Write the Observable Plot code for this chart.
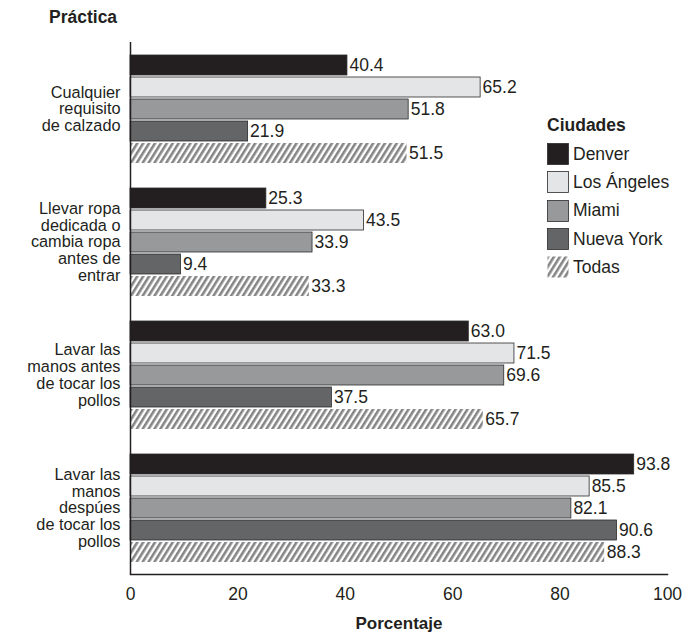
<!DOCTYPE html>
<html>
<head>
<meta charset="utf-8">
<script src="https://cdn.jsdelivr.net/npm/d3@7"></script>
<script src="https://cdn.jsdelivr.net/npm/@observablehq/plot@0.6"></script>
<style>
  html, body { margin: 0; padding: 0; background: #fff; }
  body { font-family: "Liberation Sans", Arial, Helvetica, sans-serif; color: #231f20; }
  #wrap { position: relative; width: 698px; height: 635px; }
  #title { position: absolute; left: 49px; top: 7px; font-weight: bold; font-size: 17.5px; line-height: 20px; }
  #legend { position: absolute; left: 547px; top: 114px; font-size: 17.5px; }
  #legend .head { font-weight: bold; height: 26px; line-height: 22px; }
  #legend .row { display: flex; align-items: center; height: 28.3px; }
  #legend svg { margin-right: 4px; }
</style>
</head>
<body>
<div id="wrap">
  <div id="chart"></div>
  <div id="title">Práctica</div>
  <div id="legend"></div>
</div>
<script>
const practices = [
  "Cualquier\nrequisito\nde calzado",
  "Llevar ropa\ndedicada o\ncambia ropa\nantes de\nentrar",
  "Lavar las\nmanos antes\nde tocar los\npollos",
  "Lavar las\nmanos\ndespúes\nde tocar los\npollos"
];
const cities = ["Denver", "Los Ángeles", "Miami", "Nueva York", "Todas"];
const denver     = [40.4, 25.3, 63.0, 93.8];
const losAngeles = [65.2, 43.5, 71.5, 85.5];
const miami      = [51.8, 33.9, 69.6, 82.1];
const nuevaYork  = [21.9, 9.4, 37.5, 90.6];
const todas      = [51.5, 33.3, 65.7, 88.3];
const xTicks = [0, 20, 40, 60, 80, 100];

const colors = ["#231f20", "#e4e5e6", "#98999b", "#646567", "url(#hatch)"];
const series = [denver, losAngeles, miami, nuevaYork, todas];

const data = [];
practices.forEach((p, i) => {
  cities.forEach((c, j) => data.push({practice: p, city: c, value: series[j][i]}));
});

const font = '"Liberation Sans", Arial, Helvetica, sans-serif';
const fs = 17.5;

const chart = Plot.plot({
  width: 698,
  height: 635,
  marginTop: 40,
  marginLeft: 130,
  marginRight: 31,
  marginBottom: 60,
  style: {fontFamily: font, fontSize: fs + "px", color: "#231f20", background: "#fff"},
  x: {domain: [0, 100], ticks: xTicks, label: "Porcentaje", labelAnchor: "center"},
  fy: {domain: practices, padding: 0},
  y: {domain: cities, paddingInner: 0.1, paddingOuter: 0.55, axis: null},
  color: {domain: cities, range: colors},
  marks: [
    Plot.barX(data, {
      fy: "practice", y: "city", x: "value", fill: "city",
      stroke: d => d.city === "Todas" ? "none" : "#2b2b2b", strokeWidth: 0.8
    }),
    Plot.text(data, {
      fy: "practice", y: "city", x: "value", text: d => d.value.toFixed(1),
      textAnchor: "start", dx: 2, fontSize: fs, fill: "#231f20"
    }),
    Plot.ruleX([0], {stroke: "#231f20", strokeWidth: 1.5}),
    Plot.frame({anchor: "bottom", facetAnchor: "bottom", stroke: "#231f20", strokeWidth: 1.5}),
    Plot.axisFy({anchor: "left", tickSize: 0, tickPadding: 10, label: null, fontSize: 16.3, lineHeight: 1.03, fill: "#231f20"}),
    Plot.axisX({tickSize: 0, tickPadding: 13, fontSize: fs, label: null, fill: "#231f20"}),
    Plot.axisX({tickSize: 0, ticks: [], label: "Porcentaje", labelArrow: "none", labelAnchor: "center", labelOffset: 54, fontWeight: "bold", fontSize: 17, fill: "#231f20"})
  ]
});

// hatch pattern
const hatch = (id) => `<pattern id="${id}" patternUnits="userSpaceOnUse" width="5" height="5" patternTransform="rotate(32)">
  <rect width="5" height="5" fill="#ffffff"/>
  <rect x="0" width="2.6" height="5" fill="#858585"/>
</pattern>`;
const defs = document.createElementNS("http://www.w3.org/2000/svg", "defs");
defs.innerHTML = hatch("hatch");
chart.insertBefore(defs, chart.firstChild);
document.getElementById("chart").appendChild(chart);

// legend
const legend = document.getElementById("legend");
legend.innerHTML = `<svg width="0" height="0" style="position:absolute"><defs>${hatch("hatchL")}</defs></svg><div class="head">Ciudades</div>`;
cities.forEach((c, j) => {
  const fill = j === 4 ? "url(#hatchL)" : colors[j];
  const stroke = j === 4 ? "none" : "#2b2b2b";
  legend.insertAdjacentHTML("beforeend",
    `<div class="row"><svg width="22" height="22"><rect x="0.5" y="0.5" width="21" height="21" fill="${fill}" stroke="${stroke}" stroke-width="0.8"/></svg><span>${c}</span></div>`);
});
</script>
</body>
</html>
